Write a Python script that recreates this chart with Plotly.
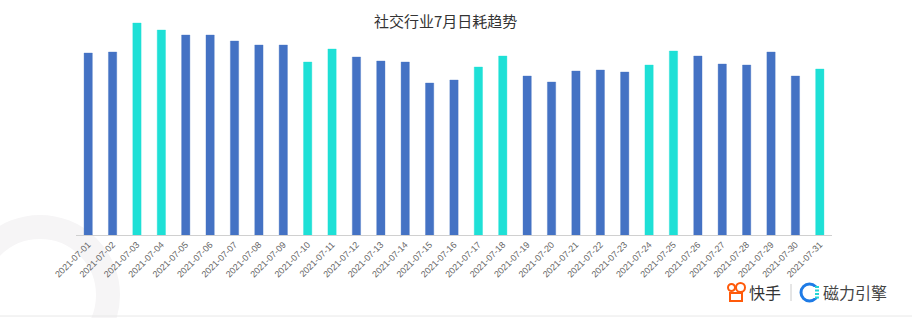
import plotly.graph_objects as go

dates = [f"2021-07-{d:02d}" for d in range(1, 32)]
values = [182, 183, 212, 205, 200, 200, 194, 190, 190, 173, 186, 178, 174, 173, 152, 155,
          168, 179, 159, 153, 164, 165, 163, 170, 184, 179, 171, 170, 183, 159, 166]
weekend = [3, 4, 10, 11, 17, 18, 24, 25, 31]
blue = "#4472C4"
cyan = "#1EE0D6"
colors = [cyan if (i + 1) in weekend else blue for i in range(31)]
edge = ["rgba(30,224,214,0.35)" if c == cyan else "rgba(68,114,196,0.35)" for c in colors]

W, H = 912, 318
L, R, T, B = 76, 832, 20, 235


def px(x):
    return (x - L) / (R - L)


def py(y):
    return (B - y) / (B - T)


fig = go.Figure(go.Bar(x=dates, y=values, marker=dict(color=colors, line=dict(color=edge, width=1))))

shapes = [
    # watermark ring
    dict(type="circle", xref="paper", yref="paper", layer="below",
         x0=px(40 - 68), x1=px(40 + 68), y0=py(295 + 68), y1=py(295 - 68),
         line=dict(color="#f6f5f6", width=24)),
    # bottom border
    dict(type="line", xref="paper", yref="paper", x0=px(0), x1=px(912), y0=py(316), y1=py(316),
         line=dict(color="#e8e8e8", width=1)),
    # separator
    dict(type="line", xref="paper", yref="paper", x0=px(791), x1=px(791), y0=py(284), y1=py(301),
         line=dict(color="#cccccc", width=1)),
    # kuaishou icon
    dict(type="circle", xref="paper", yref="paper", x0=px(728), x1=px(735), y0=py(291), y1=py(284),
         line=dict(color="#FF5A0A", width=2)),
    dict(type="circle", xref="paper", yref="paper", x0=px(736), x1=px(745), y0=py(292), y1=py(283),
         line=dict(color="#FF5A0A", width=2)),
    dict(type="rect", xref="paper", yref="paper", x0=px(730), x1=px(742), y0=py(301), y1=py(293),
         line=dict(color="#FF5A0A", width=2)),
    # magnet icon
    dict(type="circle", xref="paper", yref="paper", x0=px(801), x1=px(818), y0=py(301), y1=py(284),
         line=dict(color="#1E7BE6", width=3)),
    dict(type="rect", xref="paper", yref="paper", x0=px(812), x1=px(821), y0=py(298), y1=py(287),
         fillcolor="white", line=dict(width=0)),
]
for yy in (287, 290.5, 294, 297.5):
    shapes.append(dict(type="line", xref="paper", yref="paper", x0=px(815), x1=px(819),
                       y0=py(yy), y1=py(yy), line=dict(color="#22D3D6", width=2)))

fig.update_layout(
    width=W, height=H,
    margin=dict(l=L, r=W - R, t=T, b=H - B),
    paper_bgcolor="white", plot_bgcolor="white",
    bargap=0.66,
    showlegend=False,
    font=dict(family="Liberation Sans, Arial, Noto Sans CJK SC", color="#666"),
    xaxis=dict(type="category", tickangle=-45, tickfont=dict(size=9, color="#666"), showline=True,
               linecolor="#d0d0d0", linewidth=1, ticks="", showgrid=False, fixedrange=True),
    yaxis=dict(range=[0, B - T], visible=False, showgrid=False, fixedrange=True),
    shapes=shapes,
    annotations=[
        dict(text="社交行业7月日耗趋势", xref="paper", yref="paper", x=px(445), y=py(20),
             yanchor="middle", xanchor="center",
             showarrow=False, font=dict(size=15, color="#333", family="Noto Sans CJK SC")),
        dict(text="快手", xref="paper", yref="paper", x=px(765), y=py(292),
             yanchor="middle", xanchor="center",
             showarrow=False, font=dict(size=16, color="#333", family="Noto Sans CJK SC")),
        dict(text="磁力引擎", xref="paper", yref="paper", x=px(855), y=py(292),
             yanchor="middle", xanchor="center",
             showarrow=False, font=dict(size=16, color="#444", family="Noto Sans CJK SC")),
    ],
)

fig.write_html("out.html", config={"displayModeBar": False})
